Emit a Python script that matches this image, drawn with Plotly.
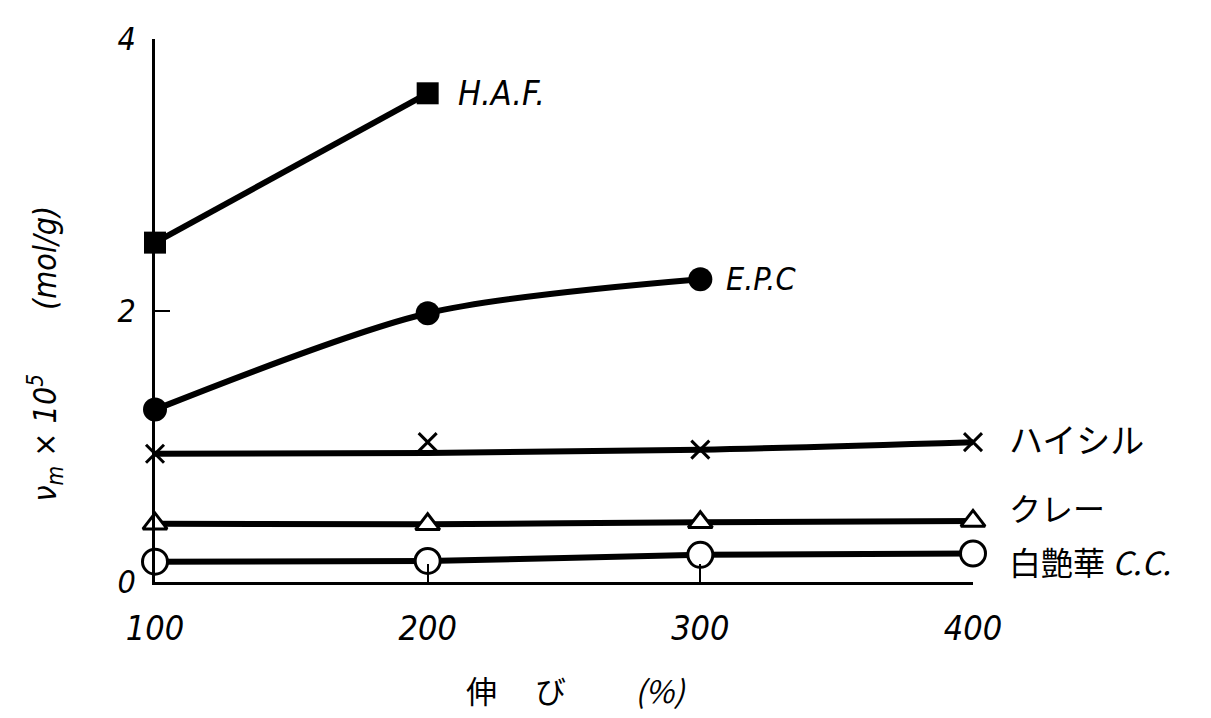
import plotly.graph_objects as go

# elongation (%)
x_vals = [100, 200, 300, 400]

haf_x = [100, 200]
haf_y = [2.50, 3.60]

epc_x = [100, 200, 300]
epc_y = [1.27, 1.98, 2.23]

hai_y = [0.945, 1.03, 0.975, 1.03]       # marker points
hai_curve = [0.945, 0.95, 0.975, 1.03]   # drawn curve

clay_y = [0.43, 0.425, 0.44, 0.45]
cc_y = [0.15, 0.155, 0.20, 0.21]

labels = ["H.A.F.", "E.P.C", "ハイシル", "クレー", "白艶華 <i>C.C.</i>"]

x_ticks = [100, 200, 300, 400]
y_ticks = [0, 2, 4]

LAT = "DejaVu Sans Condensed, Liberation Sans Narrow, Liberation Sans, DejaVu Sans, sans-serif"
JP = "Noto Sans CJK JP, sans-serif"
LW = 6

fig = go.Figure()

fig.add_trace(go.Scatter(x=haf_x, y=haf_y, mode="lines+markers",
                         line=dict(color="black", width=LW),
                         marker=dict(symbol="square", size=22, color="black"),
                         cliponaxis=False))
fig.add_trace(go.Scatter(x=epc_x, y=epc_y, mode="lines+markers",
                         line=dict(color="black", width=LW, shape="spline", smoothing=0.8),
                         marker=dict(symbol="circle", size=24, color="black"),
                         cliponaxis=False))
fig.add_trace(go.Scatter(x=x_vals, y=hai_curve, mode="lines",
                         line=dict(color="black", width=LW, shape="spline", smoothing=1.0),
                         cliponaxis=False))
fig.add_trace(go.Scatter(x=x_vals, y=hai_y, mode="markers",
                         marker=dict(symbol="x-thin-open", size=18, color="black",
                                     line=dict(width=3, color="black")),
                         cliponaxis=False))
fig.add_trace(go.Scatter(x=x_vals, y=clay_y, mode="lines+markers",
                         line=dict(color="black", width=LW, shape="spline", smoothing=0.5),
                         marker=dict(symbol="triangle-up", size=21, color="white",
                                     line=dict(width=3, color="black")),
                         cliponaxis=False))
fig.add_trace(go.Scatter(x=x_vals, y=cc_y, mode="lines+markers",
                         line=dict(color="black", width=LW, shape="spline", smoothing=0.5),
                         marker=dict(symbol="circle", size=25, color="white",
                                     line=dict(width=3, color="black")),
                         cliponaxis=False))

ann = []
ann.append(dict(x=haf_x[-1], y=haf_y[-1], text="<i>" + labels[0] + "</i>", showarrow=False,
                xanchor="left", xshift=28, font=dict(family=LAT, size=34, color="black")))
ann.append(dict(x=epc_x[-1], y=epc_y[-1], text="<i>" + labels[1] + "</i>", showarrow=False,
                xanchor="left", xshift=24, font=dict(family=LAT, size=32, color="black")))
ann.append(dict(x=x_vals[-1], y=hai_y[-1], text=labels[2], showarrow=False,
                xanchor="left", xshift=34, yshift=4, font=dict(family=JP, size=34, color="black")))
ann.append(dict(x=x_vals[-1], y=clay_y[-1], text=labels[3], showarrow=False,
                xanchor="left", xshift=34, yshift=14, font=dict(family=JP, size=32, color="black")))
ann.append(dict(x=x_vals[-1], y=cc_y[-1], text=labels[4], showarrow=False,
                xanchor="left", xshift=34, yshift=-8, font=dict(family=JP, size=32, color="black")))

ann.append(dict(xref="paper", yref="paper", x=0.515, y=-0.198, text="伸　 び　　 <i>(%)</i>",
                showarrow=False, xanchor="center", yanchor="middle",
                font=dict(family=JP, size=31, color="black")))
ann.append(dict(xref="paper", yref="paper", x=-0.135, y=0.42,
                text="<i>ν<sub>m</sub> × 10<sup>5</sup>　　(mol/g)</i>",
                showarrow=False, textangle=-90, xanchor="center", yanchor="middle",
                font=dict(family=LAT, size=32, color="black")))

fig.update_layout(
    width=1211, height=718,
    margin=dict(l=147, r=246, t=28, b=144),
    paper_bgcolor="white", plot_bgcolor="white",
    showlegend=False,
    annotations=ann,
)
fig.update_xaxes(range=[100, 400], tickvals=x_ticks, ticktext=[str(v) for v in x_ticks],
                 showline=True, linecolor="black", linewidth=2.5, showgrid=False, zeroline=False,
                 ticks="inside", ticklen=18, tickwidth=2, tickcolor="black",
                 ticklabelstandoff=14,
                 tickfont=dict(family=LAT, size=34, color="black", style="italic"))
fig.update_yaxes(range=[0, 4], tickvals=y_ticks, ticktext=[str(v) for v in y_ticks],
                 showline=True, linecolor="black", linewidth=2.5, showgrid=False, zeroline=False,
                 ticks="inside", ticklen=15, tickwidth=2, tickcolor="black",
                 ticklabelstandoff=10,
                 tickfont=dict(family=LAT, size=32, color="black", style="italic"))

fig.write_html("out.html")
